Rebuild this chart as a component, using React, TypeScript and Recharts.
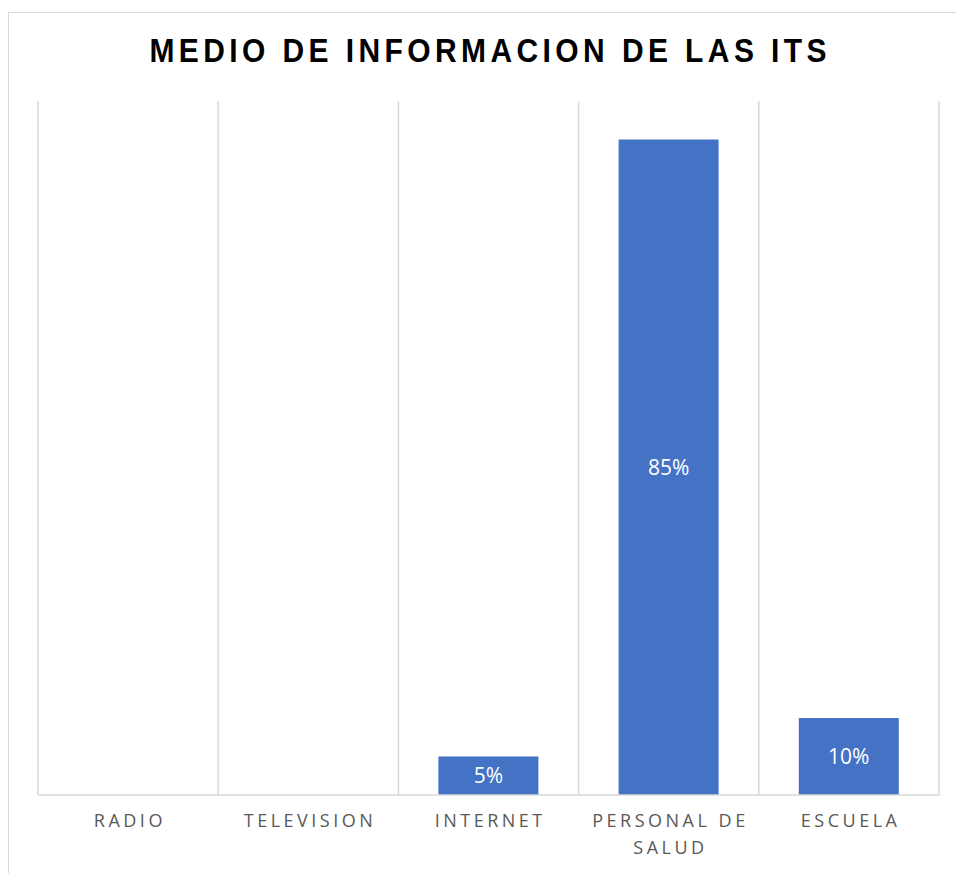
import React from 'react';
import { BarChart, Bar, XAxis, YAxis, CartesianGrid, LabelList } from 'recharts';

const categories = ['RADIO', 'TELEVISION', 'INTERNET', 'PERSONAL DE SALUD', 'ESCUELA'];
const shares = [0, 0, 0.05, 0.85, 0.1];

const data = categories.map((name, i) => ({ name, value: shares[i] }));

const wrapLabel = (label: string, max = 12) => {
  const lines: string[] = [];
  let cur = '';
  label.split(' ').forEach((w) => {
    const next = cur ? cur + ' ' + w : w;
    if (next.length > max && cur) {
      lines.push(cur);
      cur = w;
    } else {
      cur = next;
    }
  });
  if (cur) lines.push(cur);
  return lines;
};

const CategoryTick = (props: any) => {
  const { x, y, payload } = props;
  const lines = wrapLabel(String(payload.value));
  return (
    <text
      x={x}
      y={y}
      textAnchor="middle"
      fill="#595959"
      fontSize={18}
      fontFamily="'Open Sans', sans-serif"
      letterSpacing={3.5}
    >
      {lines.map((l, i) => (
        <tspan key={i} x={x + 1.75} dy={i === 0 ? 32 : 27}>
          {l}
        </tspan>
      ))}
    </text>
  );
};

const pct = (v: any) => `${Math.round(Number(v) * 100)}%`;

export default function App() {
  return (
    <div style={{ position: 'absolute', left: 0, top: 0, width: 956, height: 873, background: '#fff', overflow: 'hidden' }}>
      <div
        style={{
          position: 'absolute',
          left: 8,
          top: 12,
          width: 980,
          height: 900,
          border: '1.5px solid #d9d9d9',
          boxSizing: 'border-box',
        }}
      />
      <div
        style={{
          position: 'absolute',
          left: 8,
          top: 37,
          width: 960,
          textAlign: 'center',
          fontFamily: "'Liberation Sans', Arial, sans-serif",
          fontWeight: 'bold',
          fontSize: 30,
          lineHeight: '30px',
          letterSpacing: 4.4,
          paddingLeft: 4.4,
          boxSizing: 'border-box',
          color: '#000',
          transform: 'scaleY(1.12)',
          transformOrigin: '50% 25px',
        }}
      >
        MEDIO DE INFORMACION DE LAS ITS
      </div>
      <div style={{ position: 'absolute', left: 0, top: 0 }}>
        <BarChart
          width={956}
          height={873}
          data={data}
          margin={{ top: 101, right: 17, bottom: 0, left: 38 }}
          barSize={100}
        >
          <CartesianGrid
            horizontal={false}
            stroke="#d9d9d9"
            strokeWidth={1.5}
            verticalCoordinatesGenerator={({ offset }: any) =>
              Array.from({ length: categories.length + 1 }, (_, i) => offset.left + (i * offset.width) / categories.length)
            }
          />
          <XAxis
            dataKey="name"
            height={78}
            axisLine={{ stroke: '#d9d9d9', strokeWidth: 1.5 }}
            tickLine={false}
            tickSize={0}
            tickMargin={0}
            interval={0}
            tick={<CategoryTick />}
          />
          <YAxis hide domain={[0, 0.9]} />
          <Bar dataKey="value" fill="#4472c4" isAnimationActive={false}>
            <LabelList
              dataKey="value"
              position="center"
              formatter={pct}
              fill="#ffffff"
              fontSize={21}
              fontFamily="'Open Sans', sans-serif"
            />
          </Bar>
        </BarChart>
      </div>
    </div>
  );
}
